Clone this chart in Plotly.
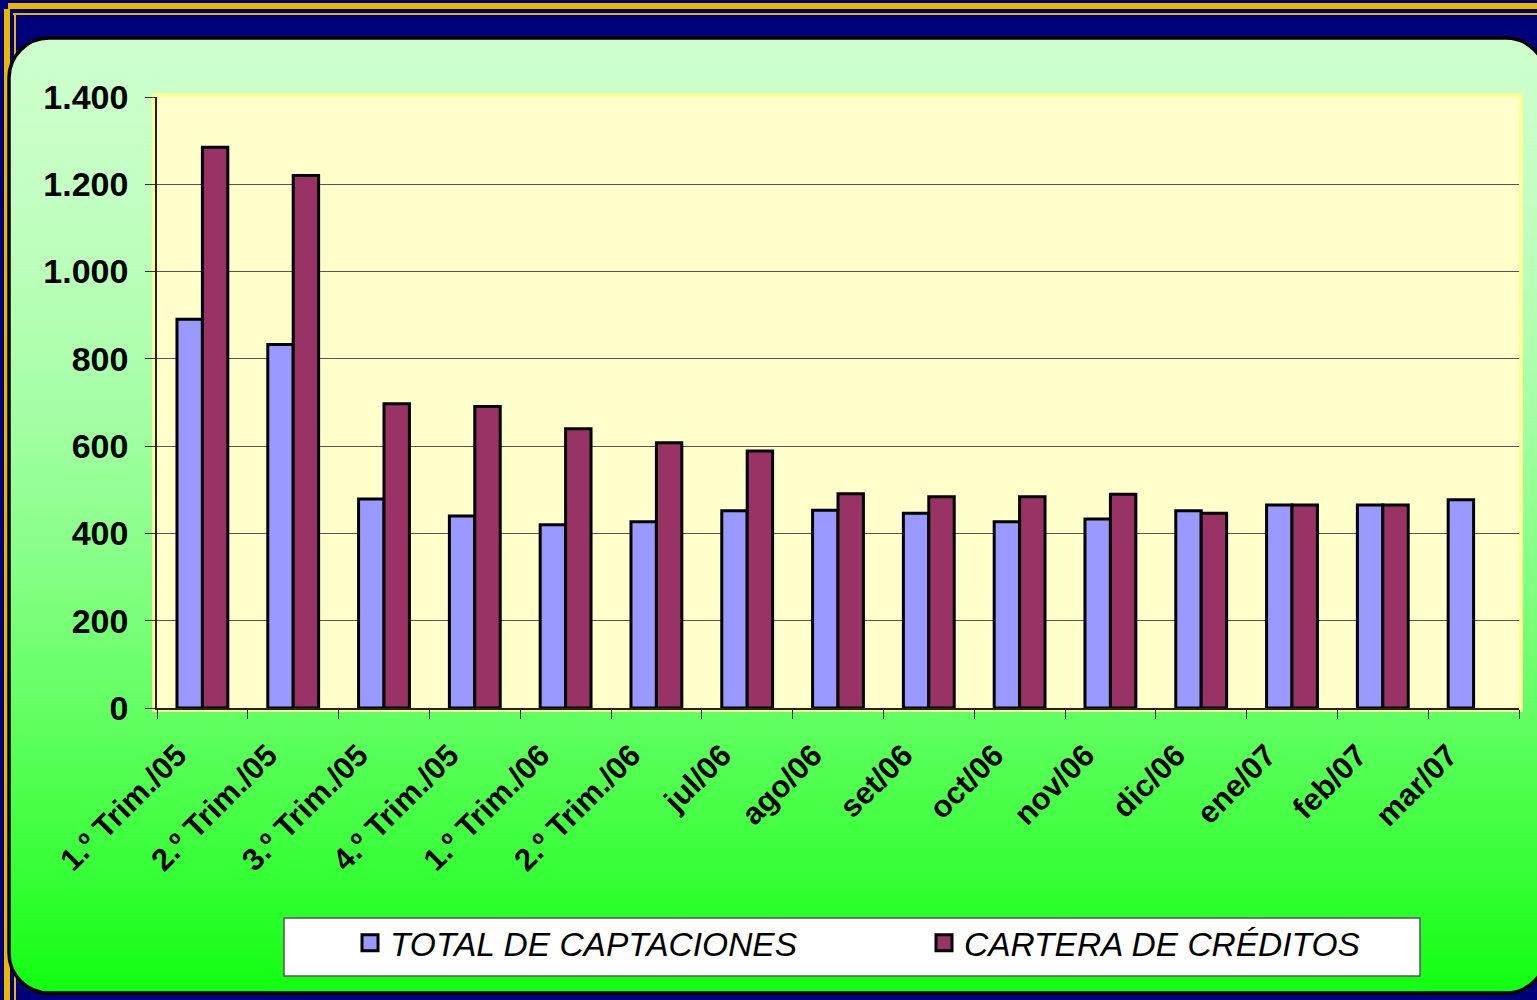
import plotly.graph_objects as go

categories = ["1.º Trim./05", "2.º Trim./05", "3.º Trim./05", "4.º Trim./05",
              "1.º Trim./06", "2.º Trim./06", "jul/06", "ago/06", "set/06",
              "oct/06", "nov/06", "dic/06", "ene/07", "feb/07", "mar/07"]
captaciones = [891, 833, 479, 440, 420, 427, 452, 453, 446, 427, 433, 452, 465, 465, 477]
cartera = [1285, 1220, 697, 691, 640, 608, 589, 491, 484, 484, 490, 446, 465, 465, None]
series_names = ["TOTAL DE CAPTACIONES", "CARTERA DE CRÉDITOS"]
series_colors = ["#9999FF", "#993366"]
y_ticks = [0, 200, 400, 600, 800, 1000, 1200, 1400]

W, H = 1537, 1000
L, R, T, B = 157, 1519, 97, 708


def px(x):
    return (x - L) / (R - L)


def py(y):
    return (B - y) / (B - T)


FONT = "Liberation Sans, Arial, sans-serif"

fig = go.Figure()
fig.add_trace(go.Bar(x=categories, y=captaciones, name=series_names[0],
                     marker=dict(color=series_colors[0], line=dict(color="black", width=3)),
                     showlegend=False))
fig.add_trace(go.Bar(x=categories, y=cartera, name=series_names[1],
                     marker=dict(color=series_colors[1], line=dict(color="black", width=3)),
                     showlegend=False))
# legend entries (no data)
for i, leg in enumerate(["legend", "legend2"]):
    fig.add_trace(go.Scatter(x=[None], y=[None], mode="markers", name=series_names[i],
                             marker=dict(symbol="square", size=18, color=series_colors[i],
                                         line=dict(color="black", width=3)),
                             legend=leg, showlegend=True))

shapes = []
# outer golden frame lines
gold = "#E6B800"
shapes.append(dict(type="rect", xref="paper", yref="paper", x0=px(8), x1=px(W + 5), y0=py(3), y1=py(9),
                   fillcolor=gold, line=dict(width=0), layer="below"))
shapes.append(dict(type="rect", xref="paper", yref="paper", x0=px(13), x1=px(W + 5), y0=py(13), y1=py(15),
                   fillcolor=gold, line=dict(width=0), layer="below"))
shapes.append(dict(type="rect", xref="paper", yref="paper", x0=px(4), x1=px(10), y0=py(9), y1=py(H + 5),
                   fillcolor=gold, line=dict(width=0), layer="below"))
shapes.append(dict(type="rect", xref="paper", yref="paper", x0=px(14), x1=px(16), y0=py(13), y1=py(H + 5),
                   fillcolor=gold, line=dict(width=0), layer="below"))

# rounded green gradient panel
L0, R0, T0, B0, rad = 9, 1546, 38, 993, 40


def xl(y):
    if y < T0 + rad:
        d = T0 + rad - y
        return L0 + rad - (max(rad * rad - d * d, 0)) ** 0.5
    if y > B0 - rad:
        d = y - (B0 - rad)
        return L0 + rad - (max(rad * rad - d * d, 0)) ** 0.5
    return L0


def xr(y):
    return L0 + R0 - xl(y)


def green(y):
    t = min(max((y - T0) / (B0 - T0), 0), 1)
    v = 204 - 187 * t ** 1.65
    v = int(round(v))
    return f"rgb({v},255,{v})"


step = 4
y = T0
while y < B0:
    y2 = min(y + step, B0)
    path = (f"M{px(xl(y))},{py(y)} L{px(xr(y))},{py(y)} "
            f"L{px(xr(y2))},{py(y2)} L{px(xl(y2))},{py(y2)} Z")
    shapes.append(dict(type="path", xref="paper", yref="paper", path=path,
                       fillcolor=green((y + y2) / 2), line=dict(width=0.6, color=green((y + y2) / 2)),
                       layer="below"))
    y = y2

k = 0.5523 * rad
outline = (f"M{px(L0 + rad)},{py(T0)} L{px(R0 - rad)},{py(T0)} "
           f"C{px(R0 - rad + k)},{py(T0)} {px(R0)},{py(T0 + rad - k)} {px(R0)},{py(T0 + rad)} "
           f"L{px(R0)},{py(B0 - rad)} "
           f"C{px(R0)},{py(B0 - rad + k)} {px(R0 - rad + k)},{py(B0)} {px(R0 - rad)},{py(B0)} "
           f"L{px(L0 + rad)},{py(B0)} "
           f"C{px(L0 + rad - k)},{py(B0)} {px(L0)},{py(B0 - rad + k)} {px(L0)},{py(B0 - rad)} "
           f"L{px(L0)},{py(T0 + rad)} "
           f"C{px(L0)},{py(T0 + rad - k)} {px(L0 + rad - k)},{py(T0)} {px(L0 + rad)},{py(T0)} Z")
shapes.append(dict(type="path", xref="paper", yref="paper", path=outline,
                   line=dict(color="black", width=3.5), layer="below"))

# light yellow plot-area rim and plot background
shapes.append(dict(type="rect", xref="paper", yref="paper", x0=px(152), x1=px(1523), y0=py(712), y1=py(93),
                   fillcolor="#FFFF99", line=dict(width=0), layer="below"))
shapes.append(dict(type="rect", xref="paper", yref="paper", x0=0, x1=1, y0=0, y1=1,
                   fillcolor="#FFFFCC", line=dict(width=0), layer="below"))

# legend box
shapes.append(dict(type="rect", xref="paper", yref="paper", x0=px(284), x1=px(1420), y0=py(976), y1=py(918),
                   fillcolor="white", line=dict(color="#555555", width=1.5), layer="below"))

leg_font = dict(family=FONT, size=33.5, color="black", style="italic")

fig.update_layout(
    width=W, height=H,
    margin=dict(l=L, r=W - R, t=T, b=H - B, autoexpand=False),
    paper_bgcolor="#00007A",
    plot_bgcolor="#FFFFCC",
    separators=",.",
    barmode="group",
    bargap=0.44,
    bargroupgap=0,
    shapes=shapes,
    showlegend=True,
    legend=dict(x=px(350), y=py(943), xanchor="left", yanchor="middle", orientation="h",
                bgcolor="rgba(0,0,0,0)", borderwidth=0, font=leg_font, itemsizing="trace"),
    legend2=dict(x=px(924), y=py(943), xanchor="left", yanchor="middle", orientation="h",
                 bgcolor="rgba(0,0,0,0)", borderwidth=0, font=leg_font, itemsizing="trace"),
    xaxis=dict(type="category", tickangle=-45, ticks="outside", tickson="boundaries", ticklen=9,
               tickcolor="#222222", showline=True, linecolor="#222222", linewidth=1.5,
               ticklabelshift=-25, ticklabelstandoff=15,
               tickfont=dict(family=FONT, size=31, color="black", weight="bold"), showgrid=False),
    yaxis=dict(range=[0, 1400], tickvals=y_ticks, tickformat=",d", ticks="outside", ticklen=10,
               tickcolor="#333333", showline=True, linecolor="#222222", linewidth=1.5,
               showgrid=True, gridcolor="#555555", gridwidth=1, zeroline=False,
               ticklabelstandoff=10,
               tickfont=dict(family=FONT, size=34, color="black", weight="bold")),
)

fig.write_html("out.html", config={"displayModeBar": False},
               post_script="document.body.style.margin='0';document.body.style.overflow='hidden';")
